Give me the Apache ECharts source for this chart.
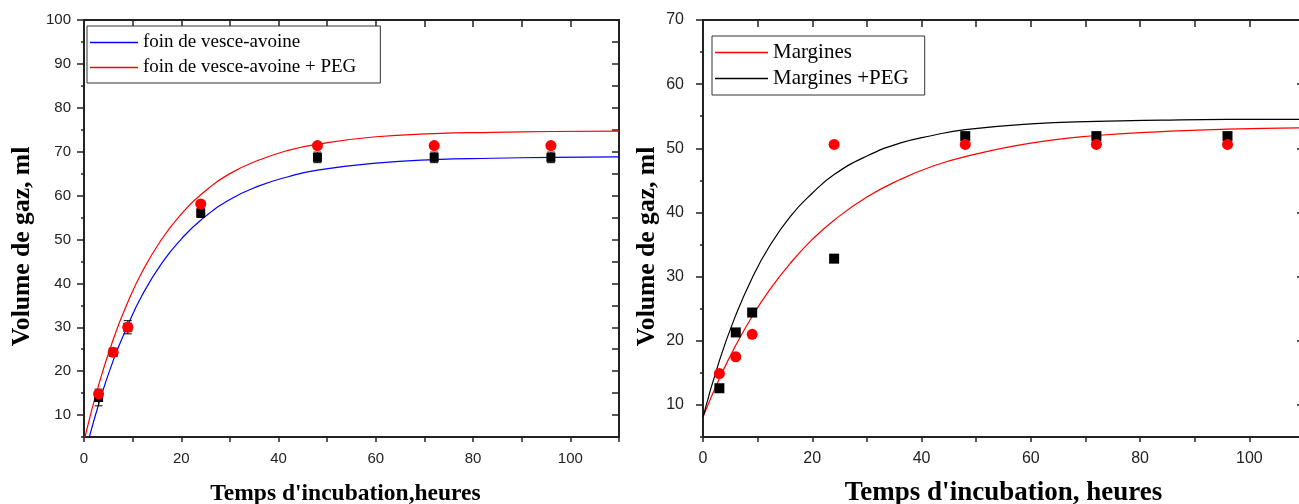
<!DOCTYPE html>
<html>
<head>
<meta charset="utf-8">
<script src="https://cdn.jsdelivr.net/npm/echarts@6.0.0/dist/echarts.min.js"></script>
<style>
  html, body { margin: 0; padding: 0; background: #fff; }
  #chart { width: 1299px; height: 504px; }
</style>
</head>
<body>
<div id="chart"></div>
<script>
// Incubation times (h) of the measured points
const hours = [3, 6, 9, 24, 48, 72, 96];

// Gas volume (ml): vetch-oat hay, without and with PEG
const foin = [14.0, 24.3, 30.0, 56.0, 68.7, 68.7, 68.7];
const foinErr = [1.9, 0.8, 1.5, 1.0, 1.2, 1.2, 1.2];
const foinPEG = [14.8, 24.3, 30.0, 58.1, 71.4, 71.4, 71.4];

// Gas volume (ml): olive mill wastewater, without and with PEG
const margines = [14.9, 17.5, 21.0, 50.6, 50.6, 50.6, 50.6];
const marginesPEG = [12.6, 21.3, 24.4, 32.8, 51.9, 51.9, 51.9];

// Fitted gas production curves
const fitHours = [0, 3, 6, 9, 12, 16, 20, 24, 30, 36, 42, 48, 60, 72, 84, 96, 110];
const foinFit = [0.3, 12.4, 22.4, 30.4, 37.4, 44.6, 50.1, 54.4, 59.1, 62.2, 64.3, 65.8, 67.4, 68.2, 68.5, 68.7, 68.8];
const foinPEGFit = [4.1, 16.8, 27.2, 35.7, 42.7, 50.1, 55.8, 60.2, 65.0, 68.1, 70.3, 71.7, 73.4, 74.1, 74.4, 74.6, 74.7];
const marginesFit = [8.1, 14.1, 19.3, 23.8, 27.7, 32.1, 35.8, 38.8, 42.4, 45.1, 47.2, 48.7, 50.8, 52.0, 52.6, 53.0, 53.2];
const marginesPEGFit = [8.1, 16.9, 24.0, 29.8, 34.5, 39.4, 43.0, 45.9, 48.8, 50.8, 52.0, 52.9, 53.8, 54.2, 54.4, 54.5, 54.5];

// Tick labels
const xLabels = [0, 20, 40, 60, 80, 100];
const yLabelsLeft = [10, 20, 30, 40, 50, 60, 70, 80, 90, 100];
const yMinorLeft = [5, 15, 25, 35, 45, 55, 65, 75, 85, 95];
const yLabelsRight = [10, 20, 30, 40, 50, 60, 70];
const yMinorRight = [5, 15, 25, 35, 45, 55, 65];

const legendLeft = ['foin de vesce-avoine', 'foin de vesce-avoine + PEG'];
const legendRight = ['Margines', 'Margines +PEG'];

const AXIS = '#222';
const pair = (xs, ys) => xs.map((x, i) => [x, ys[i]]);

function bottomAxis(grid, name, fontSize, nameSize, nameGap, namePad) {
  return {
    type: 'value', gridIndex: grid, position: 'bottom', min: 0, max: 110, interval: 10,
    splitLine: { show: false },
    axisLine: { show: true, onZero: false, lineStyle: { color: AXIS, width: 2 } },
    axisTick: { show: true, inside: false, length: 5, lineStyle: { color: AXIS, width: 1.5 } },
    axisLabel: { customValues: xLabels, margin: 14, color: AXIS, fontFamily: 'Liberation Sans', fontSize: fontSize },
    name: name, nameLocation: 'middle', nameGap: nameGap,
    nameTextStyle: { fontFamily: 'Liberation Serif', fontWeight: 'bold', fontSize: nameSize, color: '#000', padding: namePad }
  };
}
function topAxis(grid) {
  return {
    type: 'value', gridIndex: grid, position: 'top', min: 0, max: 110, interval: 10,
    splitLine: { show: false },
    axisLine: { show: true, onZero: false, lineStyle: { color: AXIS, width: 2 } },
    axisTick: { show: true, inside: true, length: 7, lineStyle: { color: AXIS, width: 1.5 } },
    axisLabel: { show: false }
  };
}
function leftAxis(grid, max, labels, fontSize, name, nameSize, nameGap, margin) {
  return {
    type: 'value', gridIndex: grid, position: 'left', min: 5, max: max, interval: 5,
    splitLine: { show: false },
    axisLine: { show: true, onZero: false, lineStyle: { color: AXIS, width: 2 } },
    axisTick: { show: true, inside: false, length: 7, customValues: labels, lineStyle: { color: AXIS, width: 1.5 } },
    axisLabel: { customValues: labels, margin: margin, color: AXIS, fontFamily: 'Liberation Sans', fontSize: fontSize },
    name: name, nameLocation: 'middle', nameGap: nameGap,
    nameTextStyle: { fontFamily: 'Liberation Serif', fontWeight: 'bold', fontSize: nameSize, color: '#000', padding: [0, 36, 0, 0] }
  };
}
function minorLeftAxis(grid, max, ticks) {
  return {
    type: 'value', gridIndex: grid, position: 'left', min: 5, max: max, interval: 5,
    splitLine: { show: false },
    axisLine: { show: false, onZero: false },
    axisTick: { show: true, inside: false, length: 3, customValues: ticks, lineStyle: { color: AXIS, width: 1.5 } },
    axisLabel: { show: false }
  };
}
function rightAxis(grid, max, ticks) {
  const ax = {
    type: 'value', gridIndex: grid, position: 'right', min: 5, max: max, interval: 5,
    splitLine: { show: false },
    axisLine: { show: true, onZero: false, lineStyle: { color: AXIS, width: 2 } },
    axisTick: { show: true, inside: true, length: 7, lineStyle: { color: AXIS, width: 1.5 } },
    axisLabel: { show: false }
  };
  if (ticks) ax.axisTick.customValues = ticks;
  return ax;
}

function errorBars(xAxisIndex, yAxisIndex, xs, ys, errs) {
  return {
    type: 'custom', xAxisIndex: xAxisIndex, yAxisIndex: yAxisIndex, z: 3,
    data: xs.map((x, i) => [x, ys[i], errs[i]]),
    encode: { x: 0, y: 1 },
    renderItem: function (params, api) {
      const x = api.value(0), y = api.value(1), e = api.value(2);
      const hi = api.coord([x, y + e]);
      const lo = api.coord([x, y - e]);
      const w = 4;
      const st = { stroke: '#000', lineWidth: 1 };
      return {
        type: 'group',
        children: [
          { type: 'line', shape: { x1: hi[0], y1: hi[1], x2: lo[0], y2: lo[1] }, style: st },
          { type: 'line', shape: { x1: hi[0] - w, y1: hi[1], x2: hi[0] + w, y2: hi[1] }, style: st },
          { type: 'line', shape: { x1: lo[0] - w, y1: lo[1], x2: lo[0] + w, y2: lo[1] }, style: st }
        ]
      };
    }
  };
}

function fitLine(name, xAxisIndex, yAxisIndex, ys, color) {
  return {
    name: name, type: 'line', xAxisIndex: xAxisIndex, yAxisIndex: yAxisIndex,
    data: pair(fitHours, ys), showSymbol: false, symbol: 'none',
    smooth: 0.5, clip: true, z: 2,
    color: color, lineStyle: { color: color, width: 1.2 }
  };
}
function points(name, xAxisIndex, yAxisIndex, ys, symbol, size, color, z) {
  return {
    name: name, type: 'scatter', xAxisIndex: xAxisIndex, yAxisIndex: yAxisIndex,
    data: pair(hours, ys), symbol: symbol, symbolSize: size, z: z,
    itemStyle: { color: color, opacity: 1 }
  };
}

const legendCommon = {
  orient: 'vertical', icon: 'rect', itemHeight: 1.5,
  borderColor: '#333', borderWidth: 1, backgroundColor: '#fff',
  selectedMode: false
};

const option = {
  backgroundColor: '#fff',
  animation: false,
  grid: [
    { left: 84, top: 20, width: 535, height: 417, containLabel: false, outerBoundsMode: 'none' },
    { left: 703, top: 20, width: 601, height: 417, containLabel: false, outerBoundsMode: 'none' }
  ],
  legend: [
    Object.assign({}, legendCommon, {
      data: legendLeft, left: 87, top: 26, itemWidth: 48, itemGap: 6, padding: [7, 24, 6, 3],
      textStyle: { fontFamily: 'Liberation Serif', fontSize: 19, color: '#000' }
    }),
    Object.assign({}, legendCommon, {
      data: legendRight, left: 712, top: 36, itemWidth: 53, itemGap: 5, padding: [6, 16, 6, 3],
      textStyle: { fontFamily: 'Liberation Serif', fontSize: 21, color: '#000' }
    })
  ],
  xAxis: [
    bottomAxis(0, "Temps d'incubation,heures", 15, 23.5, 45, [0, 12, 0, 0]),
    topAxis(0),
    bottomAxis(1, "Temps d'incubation, heures", 16, 27, 43, [0, 0, 0, 0]),
    topAxis(1)
  ],
  yAxis: [
    leftAxis(0, 100, yLabelsLeft, 15, 'Volume de gaz, ml', 25.6, 49, 13),
    minorLeftAxis(0, 100, yMinorLeft),
    rightAxis(0, 100, null),
    leftAxis(1, 70, yLabelsRight, 16, 'Volume de gaz, ml', 25.6, 43, 19),
    minorLeftAxis(1, 70, yMinorRight),
    rightAxis(1, 70, yLabelsRight)
  ],
  series: [
    fitLine('foin de vesce-avoine', 0, 0, foinFit, '#0000ff'),
    fitLine('foin de vesce-avoine + PEG', 0, 0, foinPEGFit, '#ff0000'),
    errorBars(0, 0, hours, foin, foinErr),
    points('foin mesuré', 0, 0, foin, 'rect', 9, '#000', 4),
    points('foin + PEG mesuré', 0, 0, foinPEG, 'circle', 11, '#ff0000', 5),

    fitLine('Margines', 2, 3, marginesFit, '#ff0000'),
    fitLine('Margines +PEG', 2, 3, marginesPEGFit, '#000000'),
    points('Margines + PEG mesuré', 2, 3, marginesPEG, 'rect', 10, '#000', 4),
    points('Margines mesuré', 2, 3, margines, 'circle', 11, '#ff0000', 5)
  ]
};

const chart = echarts.init(document.getElementById('chart'), null, { renderer: 'canvas' });
chart.setOption(option);
</script>
</body>
</html>
